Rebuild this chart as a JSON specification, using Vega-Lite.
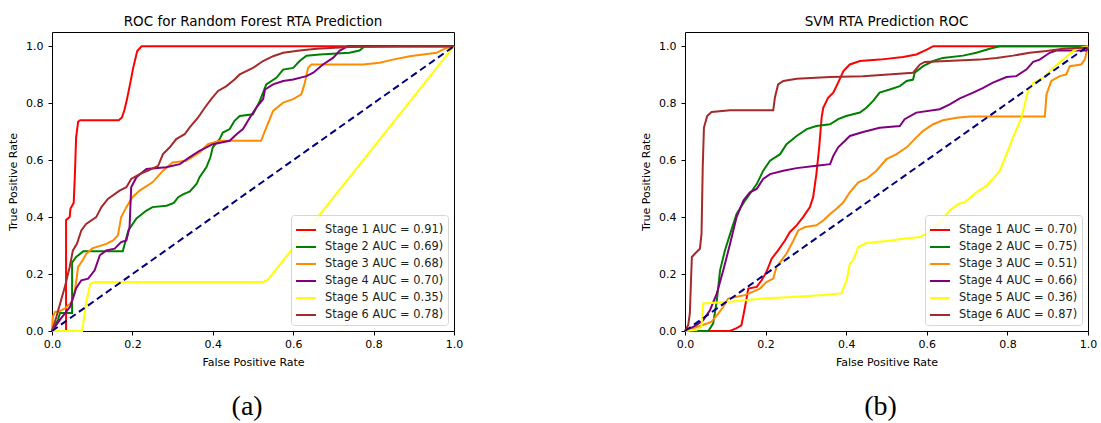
{
  "$schema": "https://vega.github.io/schema/vega-lite/v6.json",
  "background": "white",
  "padding": {"left": 7, "top": 14, "right": 5, "bottom": 2},
  "config": {
    "font": "DejaVu Sans",
    "view": {"stroke": "black", "strokeWidth": 1},
    "axis": {"grid": false, "domain": false, "tickColor": "black", "tickSize": 4, "labelColor": "black", "titleColor": "black", "labelFontSize": 11, "titleFontSize": 11, "titleFontWeight": "normal", "labelFont": "DejaVu Sans", "titleFont": "DejaVu Sans", "labelFlush": false, "titlePadding": 7},
    "axisX": {"labelPadding": 3},
    "axisY": {"labelPadding": 5},
    "title": {"font": "DejaVu Sans", "fontSize": 13.5, "fontWeight": "normal", "color": "black", "offset": 4},
    "legend": {"padding": 4, "strokeColor": "#d6d6d6", "fillColor": "rgba(255,255,255,0.85)", "cornerRadius": 3, "labelFontSize": 11.4, "labelFont": "DejaVu Sans", "labelColor": "#222", "labelOffset": 8, "symbolType": "stroke", "symbolStrokeWidth": 2, "symbolSize": 400, "rowPadding": -4, "title": null}
  },
  "datasets": {
    "diag": [{"fpr": 0, "tpr": 0, "i": 0}, {"fpr": 1, "tpr": 1, "i": 1}],
    "rf": [
      {"curve": "Stage 1 AUC = 0.91)", "i": 0, "fpr": 0, "tpr": 0},
      {"curve": "Stage 1 AUC = 0.91)", "i": 1, "fpr": 0.035, "tpr": 0},
      {"curve": "Stage 1 AUC = 0.91)", "i": 2, "fpr": 0.035, "tpr": 0.39},
      {"curve": "Stage 1 AUC = 0.91)", "i": 3, "fpr": 0.044, "tpr": 0.40},
      {"curve": "Stage 1 AUC = 0.91)", "i": 4, "fpr": 0.046, "tpr": 0.43},
      {"curve": "Stage 1 AUC = 0.91)", "i": 5, "fpr": 0.05, "tpr": 0.44},
      {"curve": "Stage 1 AUC = 0.91)", "i": 6, "fpr": 0.054, "tpr": 0.45},
      {"curve": "Stage 1 AUC = 0.91)", "i": 7, "fpr": 0.057, "tpr": 0.55},
      {"curve": "Stage 1 AUC = 0.91)", "i": 8, "fpr": 0.06, "tpr": 0.68},
      {"curve": "Stage 1 AUC = 0.91)", "i": 9, "fpr": 0.065, "tpr": 0.735},
      {"curve": "Stage 1 AUC = 0.91)", "i": 10, "fpr": 0.07, "tpr": 0.74},
      {"curve": "Stage 1 AUC = 0.91)", "i": 11, "fpr": 0.166, "tpr": 0.74},
      {"curve": "Stage 1 AUC = 0.91)", "i": 12, "fpr": 0.174, "tpr": 0.75},
      {"curve": "Stage 1 AUC = 0.91)", "i": 13, "fpr": 0.18, "tpr": 0.775},
      {"curve": "Stage 1 AUC = 0.91)", "i": 14, "fpr": 0.186, "tpr": 0.81},
      {"curve": "Stage 1 AUC = 0.91)", "i": 15, "fpr": 0.194, "tpr": 0.866},
      {"curve": "Stage 1 AUC = 0.91)", "i": 16, "fpr": 0.202, "tpr": 0.924},
      {"curve": "Stage 1 AUC = 0.91)", "i": 17, "fpr": 0.212, "tpr": 0.983},
      {"curve": "Stage 1 AUC = 0.91)", "i": 18, "fpr": 0.223, "tpr": 1.0},
      {"curve": "Stage 1 AUC = 0.91)", "i": 19, "fpr": 1, "tpr": 1},
      {"curve": "Stage 2 AUC = 0.69)", "i": 0, "fpr": 0, "tpr": 0},
      {"curve": "Stage 2 AUC = 0.69)", "i": 1, "fpr": 0.008, "tpr": 0.02},
      {"curve": "Stage 2 AUC = 0.69)", "i": 2, "fpr": 0.015, "tpr": 0.04},
      {"curve": "Stage 2 AUC = 0.69)", "i": 3, "fpr": 0.02, "tpr": 0.063},
      {"curve": "Stage 2 AUC = 0.69)", "i": 4, "fpr": 0.05, "tpr": 0.063},
      {"curve": "Stage 2 AUC = 0.69)", "i": 5, "fpr": 0.05, "tpr": 0.24},
      {"curve": "Stage 2 AUC = 0.69)", "i": 6, "fpr": 0.06, "tpr": 0.26},
      {"curve": "Stage 2 AUC = 0.69)", "i": 7, "fpr": 0.078, "tpr": 0.28},
      {"curve": "Stage 2 AUC = 0.69)", "i": 8, "fpr": 0.176, "tpr": 0.28},
      {"curve": "Stage 2 AUC = 0.69)", "i": 9, "fpr": 0.19, "tpr": 0.353},
      {"curve": "Stage 2 AUC = 0.69)", "i": 10, "fpr": 0.21, "tpr": 0.395},
      {"curve": "Stage 2 AUC = 0.69)", "i": 11, "fpr": 0.235, "tpr": 0.423},
      {"curve": "Stage 2 AUC = 0.69)", "i": 12, "fpr": 0.25, "tpr": 0.435},
      {"curve": "Stage 2 AUC = 0.69)", "i": 13, "fpr": 0.285, "tpr": 0.44},
      {"curve": "Stage 2 AUC = 0.69)", "i": 14, "fpr": 0.303, "tpr": 0.45},
      {"curve": "Stage 2 AUC = 0.69)", "i": 15, "fpr": 0.314, "tpr": 0.47},
      {"curve": "Stage 2 AUC = 0.69)", "i": 16, "fpr": 0.326, "tpr": 0.48},
      {"curve": "Stage 2 AUC = 0.69)", "i": 17, "fpr": 0.343, "tpr": 0.49},
      {"curve": "Stage 2 AUC = 0.69)", "i": 18, "fpr": 0.36, "tpr": 0.517},
      {"curve": "Stage 2 AUC = 0.69)", "i": 19, "fpr": 0.367, "tpr": 0.54},
      {"curve": "Stage 2 AUC = 0.69)", "i": 20, "fpr": 0.384, "tpr": 0.575},
      {"curve": "Stage 2 AUC = 0.69)", "i": 21, "fpr": 0.394, "tpr": 0.61},
      {"curve": "Stage 2 AUC = 0.69)", "i": 22, "fpr": 0.40, "tpr": 0.645},
      {"curve": "Stage 2 AUC = 0.69)", "i": 23, "fpr": 0.417, "tpr": 0.674},
      {"curve": "Stage 2 AUC = 0.69)", "i": 24, "fpr": 0.425, "tpr": 0.697},
      {"curve": "Stage 2 AUC = 0.69)", "i": 25, "fpr": 0.442, "tpr": 0.709},
      {"curve": "Stage 2 AUC = 0.69)", "i": 26, "fpr": 0.454, "tpr": 0.738},
      {"curve": "Stage 2 AUC = 0.69)", "i": 27, "fpr": 0.467, "tpr": 0.755},
      {"curve": "Stage 2 AUC = 0.69)", "i": 28, "fpr": 0.5, "tpr": 0.761},
      {"curve": "Stage 2 AUC = 0.69)", "i": 29, "fpr": 0.517, "tpr": 0.808},
      {"curve": "Stage 2 AUC = 0.69)", "i": 30, "fpr": 0.533, "tpr": 0.866},
      {"curve": "Stage 2 AUC = 0.69)", "i": 31, "fpr": 0.558, "tpr": 0.889},
      {"curve": "Stage 2 AUC = 0.69)", "i": 32, "fpr": 0.575, "tpr": 0.918},
      {"curve": "Stage 2 AUC = 0.69)", "i": 33, "fpr": 0.6, "tpr": 0.924},
      {"curve": "Stage 2 AUC = 0.69)", "i": 34, "fpr": 0.616, "tpr": 0.948},
      {"curve": "Stage 2 AUC = 0.69)", "i": 35, "fpr": 0.633, "tpr": 0.967},
      {"curve": "Stage 2 AUC = 0.69)", "i": 36, "fpr": 0.666, "tpr": 0.971},
      {"curve": "Stage 2 AUC = 0.69)", "i": 37, "fpr": 0.74, "tpr": 0.977},
      {"curve": "Stage 2 AUC = 0.69)", "i": 38, "fpr": 0.765, "tpr": 0.985},
      {"curve": "Stage 2 AUC = 0.69)", "i": 39, "fpr": 0.778, "tpr": 1.0},
      {"curve": "Stage 2 AUC = 0.69)", "i": 40, "fpr": 1, "tpr": 1},
      {"curve": "Stage 3 AUC = 0.68)", "i": 0, "fpr": 0, "tpr": 0},
      {"curve": "Stage 3 AUC = 0.68)", "i": 1, "fpr": 0.002, "tpr": 0.05},
      {"curve": "Stage 3 AUC = 0.68)", "i": 2, "fpr": 0.0075, "tpr": 0.067},
      {"curve": "Stage 3 AUC = 0.68)", "i": 3, "fpr": 0.02, "tpr": 0.07},
      {"curve": "Stage 3 AUC = 0.68)", "i": 4, "fpr": 0.033, "tpr": 0.08},
      {"curve": "Stage 3 AUC = 0.68)", "i": 5, "fpr": 0.048, "tpr": 0.10},
      {"curve": "Stage 3 AUC = 0.68)", "i": 6, "fpr": 0.056, "tpr": 0.13},
      {"curve": "Stage 3 AUC = 0.68)", "i": 7, "fpr": 0.065, "tpr": 0.225},
      {"curve": "Stage 3 AUC = 0.68)", "i": 8, "fpr": 0.077, "tpr": 0.25},
      {"curve": "Stage 3 AUC = 0.68)", "i": 9, "fpr": 0.085, "tpr": 0.27},
      {"curve": "Stage 3 AUC = 0.68)", "i": 10, "fpr": 0.10, "tpr": 0.29},
      {"curve": "Stage 3 AUC = 0.68)", "i": 11, "fpr": 0.135, "tpr": 0.306},
      {"curve": "Stage 3 AUC = 0.68)", "i": 12, "fpr": 0.152, "tpr": 0.318},
      {"curve": "Stage 3 AUC = 0.68)", "i": 13, "fpr": 0.164, "tpr": 0.336},
      {"curve": "Stage 3 AUC = 0.68)", "i": 14, "fpr": 0.172, "tpr": 0.40},
      {"curve": "Stage 3 AUC = 0.68)", "i": 15, "fpr": 0.185, "tpr": 0.435},
      {"curve": "Stage 3 AUC = 0.68)", "i": 16, "fpr": 0.2, "tpr": 0.47},
      {"curve": "Stage 3 AUC = 0.68)", "i": 17, "fpr": 0.218, "tpr": 0.493},
      {"curve": "Stage 3 AUC = 0.68)", "i": 18, "fpr": 0.25, "tpr": 0.522},
      {"curve": "Stage 3 AUC = 0.68)", "i": 19, "fpr": 0.276, "tpr": 0.563},
      {"curve": "Stage 3 AUC = 0.68)", "i": 20, "fpr": 0.30, "tpr": 0.592},
      {"curve": "Stage 3 AUC = 0.68)", "i": 21, "fpr": 0.334, "tpr": 0.598},
      {"curve": "Stage 3 AUC = 0.68)", "i": 22, "fpr": 0.367, "tpr": 0.627},
      {"curve": "Stage 3 AUC = 0.68)", "i": 23, "fpr": 0.388, "tpr": 0.656},
      {"curve": "Stage 3 AUC = 0.68)", "i": 24, "fpr": 0.417, "tpr": 0.668},
      {"curve": "Stage 3 AUC = 0.68)", "i": 25, "fpr": 0.52, "tpr": 0.668},
      {"curve": "Stage 3 AUC = 0.68)", "i": 26, "fpr": 0.533, "tpr": 0.714},
      {"curve": "Stage 3 AUC = 0.68)", "i": 27, "fpr": 0.55, "tpr": 0.773},
      {"curve": "Stage 3 AUC = 0.68)", "i": 28, "fpr": 0.575, "tpr": 0.802},
      {"curve": "Stage 3 AUC = 0.68)", "i": 29, "fpr": 0.6, "tpr": 0.814},
      {"curve": "Stage 3 AUC = 0.68)", "i": 30, "fpr": 0.62, "tpr": 0.831},
      {"curve": "Stage 3 AUC = 0.68)", "i": 31, "fpr": 0.628, "tpr": 0.866},
      {"curve": "Stage 3 AUC = 0.68)", "i": 32, "fpr": 0.637, "tpr": 0.924},
      {"curve": "Stage 3 AUC = 0.68)", "i": 33, "fpr": 0.645, "tpr": 0.936},
      {"curve": "Stage 3 AUC = 0.68)", "i": 34, "fpr": 0.774, "tpr": 0.936},
      {"curve": "Stage 3 AUC = 0.68)", "i": 35, "fpr": 0.815, "tpr": 0.942},
      {"curve": "Stage 3 AUC = 0.68)", "i": 36, "fpr": 0.848, "tpr": 0.953},
      {"curve": "Stage 3 AUC = 0.68)", "i": 37, "fpr": 0.89, "tpr": 0.965},
      {"curve": "Stage 3 AUC = 0.68)", "i": 38, "fpr": 0.923, "tpr": 0.971},
      {"curve": "Stage 3 AUC = 0.68)", "i": 39, "fpr": 0.956, "tpr": 0.977},
      {"curve": "Stage 3 AUC = 0.68)", "i": 40, "fpr": 0.981, "tpr": 0.994},
      {"curve": "Stage 3 AUC = 0.68)", "i": 41, "fpr": 1, "tpr": 1},
      {"curve": "Stage 4 AUC = 0.70)", "i": 0, "fpr": 0, "tpr": 0},
      {"curve": "Stage 4 AUC = 0.70)", "i": 1, "fpr": 0.02, "tpr": 0.04},
      {"curve": "Stage 4 AUC = 0.70)", "i": 2, "fpr": 0.045, "tpr": 0.085},
      {"curve": "Stage 4 AUC = 0.70)", "i": 3, "fpr": 0.06, "tpr": 0.15},
      {"curve": "Stage 4 AUC = 0.70)", "i": 4, "fpr": 0.073, "tpr": 0.178},
      {"curve": "Stage 4 AUC = 0.70)", "i": 5, "fpr": 0.09, "tpr": 0.184},
      {"curve": "Stage 4 AUC = 0.70)", "i": 6, "fpr": 0.106, "tpr": 0.213},
      {"curve": "Stage 4 AUC = 0.70)", "i": 7, "fpr": 0.119, "tpr": 0.266},
      {"curve": "Stage 4 AUC = 0.70)", "i": 8, "fpr": 0.135, "tpr": 0.283},
      {"curve": "Stage 4 AUC = 0.70)", "i": 9, "fpr": 0.156, "tpr": 0.289},
      {"curve": "Stage 4 AUC = 0.70)", "i": 10, "fpr": 0.172, "tpr": 0.312},
      {"curve": "Stage 4 AUC = 0.70)", "i": 11, "fpr": 0.185, "tpr": 0.318},
      {"curve": "Stage 4 AUC = 0.70)", "i": 12, "fpr": 0.193, "tpr": 0.365},
      {"curve": "Stage 4 AUC = 0.70)", "i": 13, "fpr": 0.197, "tpr": 0.505},
      {"curve": "Stage 4 AUC = 0.70)", "i": 14, "fpr": 0.21, "tpr": 0.54},
      {"curve": "Stage 4 AUC = 0.70)", "i": 15, "fpr": 0.235, "tpr": 0.569},
      {"curve": "Stage 4 AUC = 0.70)", "i": 16, "fpr": 0.284, "tpr": 0.575},
      {"curve": "Stage 4 AUC = 0.70)", "i": 17, "fpr": 0.318, "tpr": 0.586},
      {"curve": "Stage 4 AUC = 0.70)", "i": 18, "fpr": 0.342, "tpr": 0.61},
      {"curve": "Stage 4 AUC = 0.70)", "i": 19, "fpr": 0.367, "tpr": 0.633},
      {"curve": "Stage 4 AUC = 0.70)", "i": 20, "fpr": 0.40, "tpr": 0.656},
      {"curve": "Stage 4 AUC = 0.70)", "i": 21, "fpr": 0.442, "tpr": 0.668},
      {"curve": "Stage 4 AUC = 0.70)", "i": 22, "fpr": 0.459, "tpr": 0.691},
      {"curve": "Stage 4 AUC = 0.70)", "i": 23, "fpr": 0.475, "tpr": 0.709},
      {"curve": "Stage 4 AUC = 0.70)", "i": 24, "fpr": 0.492, "tpr": 0.749},
      {"curve": "Stage 4 AUC = 0.70)", "i": 25, "fpr": 0.508, "tpr": 0.784},
      {"curve": "Stage 4 AUC = 0.70)", "i": 26, "fpr": 0.525, "tpr": 0.814},
      {"curve": "Stage 4 AUC = 0.70)", "i": 27, "fpr": 0.53, "tpr": 0.848},
      {"curve": "Stage 4 AUC = 0.70)", "i": 28, "fpr": 0.55, "tpr": 0.866},
      {"curve": "Stage 4 AUC = 0.70)", "i": 29, "fpr": 0.575, "tpr": 0.878},
      {"curve": "Stage 4 AUC = 0.70)", "i": 30, "fpr": 0.6, "tpr": 0.883},
      {"curve": "Stage 4 AUC = 0.70)", "i": 31, "fpr": 0.633, "tpr": 0.895},
      {"curve": "Stage 4 AUC = 0.70)", "i": 32, "fpr": 0.65, "tpr": 0.907},
      {"curve": "Stage 4 AUC = 0.70)", "i": 33, "fpr": 0.674, "tpr": 0.936},
      {"curve": "Stage 4 AUC = 0.70)", "i": 34, "fpr": 0.699, "tpr": 0.959},
      {"curve": "Stage 4 AUC = 0.70)", "i": 35, "fpr": 0.716, "tpr": 0.985},
      {"curve": "Stage 4 AUC = 0.70)", "i": 36, "fpr": 0.736, "tpr": 1.0},
      {"curve": "Stage 4 AUC = 0.70)", "i": 37, "fpr": 1, "tpr": 1},
      {"curve": "Stage 5 AUC = 0.35)", "i": 0, "fpr": 0, "tpr": 0},
      {"curve": "Stage 5 AUC = 0.35)", "i": 1, "fpr": 0.075, "tpr": 0},
      {"curve": "Stage 5 AUC = 0.35)", "i": 2, "fpr": 0.085, "tpr": 0.1},
      {"curve": "Stage 5 AUC = 0.35)", "i": 3, "fpr": 0.095, "tpr": 0.165},
      {"curve": "Stage 5 AUC = 0.35)", "i": 4, "fpr": 0.105, "tpr": 0.172},
      {"curve": "Stage 5 AUC = 0.35)", "i": 5, "fpr": 0.525, "tpr": 0.172},
      {"curve": "Stage 5 AUC = 0.35)", "i": 6, "fpr": 0.537, "tpr": 0.18},
      {"curve": "Stage 5 AUC = 0.35)", "i": 7, "fpr": 1, "tpr": 1},
      {"curve": "Stage 6 AUC = 0.78)", "i": 0, "fpr": 0, "tpr": 0},
      {"curve": "Stage 6 AUC = 0.78)", "i": 1, "fpr": 0.011, "tpr": 0.05},
      {"curve": "Stage 6 AUC = 0.78)", "i": 2, "fpr": 0.032, "tpr": 0.155},
      {"curve": "Stage 6 AUC = 0.78)", "i": 3, "fpr": 0.044, "tpr": 0.225},
      {"curve": "Stage 6 AUC = 0.78)", "i": 4, "fpr": 0.052, "tpr": 0.283},
      {"curve": "Stage 6 AUC = 0.78)", "i": 5, "fpr": 0.062, "tpr": 0.306},
      {"curve": "Stage 6 AUC = 0.78)", "i": 6, "fpr": 0.073, "tpr": 0.353},
      {"curve": "Stage 6 AUC = 0.78)", "i": 7, "fpr": 0.085, "tpr": 0.376},
      {"curve": "Stage 6 AUC = 0.78)", "i": 8, "fpr": 0.11, "tpr": 0.40},
      {"curve": "Stage 6 AUC = 0.78)", "i": 9, "fpr": 0.123, "tpr": 0.435},
      {"curve": "Stage 6 AUC = 0.78)", "i": 10, "fpr": 0.139, "tpr": 0.464},
      {"curve": "Stage 6 AUC = 0.78)", "i": 11, "fpr": 0.168, "tpr": 0.493},
      {"curve": "Stage 6 AUC = 0.78)", "i": 12, "fpr": 0.185, "tpr": 0.505},
      {"curve": "Stage 6 AUC = 0.78)", "i": 13, "fpr": 0.197, "tpr": 0.534},
      {"curve": "Stage 6 AUC = 0.78)", "i": 14, "fpr": 0.218, "tpr": 0.551},
      {"curve": "Stage 6 AUC = 0.78)", "i": 15, "fpr": 0.239, "tpr": 0.563},
      {"curve": "Stage 6 AUC = 0.78)", "i": 16, "fpr": 0.264, "tpr": 0.58},
      {"curve": "Stage 6 AUC = 0.78)", "i": 17, "fpr": 0.276, "tpr": 0.621},
      {"curve": "Stage 6 AUC = 0.78)", "i": 18, "fpr": 0.293, "tpr": 0.645},
      {"curve": "Stage 6 AUC = 0.78)", "i": 19, "fpr": 0.309, "tpr": 0.674},
      {"curve": "Stage 6 AUC = 0.78)", "i": 20, "fpr": 0.33, "tpr": 0.691},
      {"curve": "Stage 6 AUC = 0.78)", "i": 21, "fpr": 0.342, "tpr": 0.714},
      {"curve": "Stage 6 AUC = 0.78)", "i": 22, "fpr": 0.363, "tpr": 0.749},
      {"curve": "Stage 6 AUC = 0.78)", "i": 23, "fpr": 0.38, "tpr": 0.784},
      {"curve": "Stage 6 AUC = 0.78)", "i": 24, "fpr": 0.396, "tpr": 0.814},
      {"curve": "Stage 6 AUC = 0.78)", "i": 25, "fpr": 0.413, "tpr": 0.843},
      {"curve": "Stage 6 AUC = 0.78)", "i": 26, "fpr": 0.434, "tpr": 0.86},
      {"curve": "Stage 6 AUC = 0.78)", "i": 27, "fpr": 0.454, "tpr": 0.883},
      {"curve": "Stage 6 AUC = 0.78)", "i": 28, "fpr": 0.467, "tpr": 0.901},
      {"curve": "Stage 6 AUC = 0.78)", "i": 29, "fpr": 0.5, "tpr": 0.924},
      {"curve": "Stage 6 AUC = 0.78)", "i": 30, "fpr": 0.525, "tpr": 0.948},
      {"curve": "Stage 6 AUC = 0.78)", "i": 31, "fpr": 0.55, "tpr": 0.965},
      {"curve": "Stage 6 AUC = 0.78)", "i": 32, "fpr": 0.575, "tpr": 0.977},
      {"curve": "Stage 6 AUC = 0.78)", "i": 33, "fpr": 0.616, "tpr": 0.985},
      {"curve": "Stage 6 AUC = 0.78)", "i": 34, "fpr": 0.658, "tpr": 0.991},
      {"curve": "Stage 6 AUC = 0.78)", "i": 35, "fpr": 0.74, "tpr": 0.997},
      {"curve": "Stage 6 AUC = 0.78)", "i": 36, "fpr": 0.865, "tpr": 1.0},
      {"curve": "Stage 6 AUC = 0.78)", "i": 37, "fpr": 1, "tpr": 1}
    ],
    "svm": [
      {"curve": "Stage 1 AUC = 0.70)", "i": 0, "fpr": 0, "tpr": 0},
      {"curve": "Stage 1 AUC = 0.70)", "i": 1, "fpr": 0.112, "tpr": 0},
      {"curve": "Stage 1 AUC = 0.70)", "i": 2, "fpr": 0.128, "tpr": 0.01},
      {"curve": "Stage 1 AUC = 0.70)", "i": 3, "fpr": 0.14, "tpr": 0.02},
      {"curve": "Stage 1 AUC = 0.70)", "i": 4, "fpr": 0.149, "tpr": 0.085},
      {"curve": "Stage 1 AUC = 0.70)", "i": 5, "fpr": 0.157, "tpr": 0.149},
      {"curve": "Stage 1 AUC = 0.70)", "i": 6, "fpr": 0.178, "tpr": 0.155},
      {"curve": "Stage 1 AUC = 0.70)", "i": 7, "fpr": 0.19, "tpr": 0.178},
      {"curve": "Stage 1 AUC = 0.70)", "i": 8, "fpr": 0.202, "tpr": 0.207},
      {"curve": "Stage 1 AUC = 0.70)", "i": 9, "fpr": 0.215, "tpr": 0.254},
      {"curve": "Stage 1 AUC = 0.70)", "i": 10, "fpr": 0.231, "tpr": 0.283},
      {"curve": "Stage 1 AUC = 0.70)", "i": 11, "fpr": 0.248, "tpr": 0.318},
      {"curve": "Stage 1 AUC = 0.70)", "i": 12, "fpr": 0.26, "tpr": 0.347},
      {"curve": "Stage 1 AUC = 0.70)", "i": 13, "fpr": 0.277, "tpr": 0.371},
      {"curve": "Stage 1 AUC = 0.70)", "i": 14, "fpr": 0.293, "tpr": 0.40},
      {"curve": "Stage 1 AUC = 0.70)", "i": 15, "fpr": 0.31, "tpr": 0.435},
      {"curve": "Stage 1 AUC = 0.70)", "i": 16, "fpr": 0.318, "tpr": 0.47},
      {"curve": "Stage 1 AUC = 0.70)", "i": 17, "fpr": 0.326, "tpr": 0.551},
      {"curve": "Stage 1 AUC = 0.70)", "i": 18, "fpr": 0.333, "tpr": 0.645},
      {"curve": "Stage 1 AUC = 0.70)", "i": 19, "fpr": 0.339, "tpr": 0.749},
      {"curve": "Stage 1 AUC = 0.70)", "i": 20, "fpr": 0.343, "tpr": 0.784},
      {"curve": "Stage 1 AUC = 0.70)", "i": 21, "fpr": 0.355, "tpr": 0.819},
      {"curve": "Stage 1 AUC = 0.70)", "i": 22, "fpr": 0.368, "tpr": 0.837},
      {"curve": "Stage 1 AUC = 0.70)", "i": 23, "fpr": 0.38, "tpr": 0.872},
      {"curve": "Stage 1 AUC = 0.70)", "i": 24, "fpr": 0.393, "tpr": 0.913},
      {"curve": "Stage 1 AUC = 0.70)", "i": 25, "fpr": 0.409, "tpr": 0.936},
      {"curve": "Stage 1 AUC = 0.70)", "i": 26, "fpr": 0.434, "tpr": 0.948},
      {"curve": "Stage 1 AUC = 0.70)", "i": 27, "fpr": 0.483, "tpr": 0.953},
      {"curve": "Stage 1 AUC = 0.70)", "i": 28, "fpr": 0.541, "tpr": 0.962},
      {"curve": "Stage 1 AUC = 0.70)", "i": 29, "fpr": 0.574, "tpr": 0.971},
      {"curve": "Stage 1 AUC = 0.70)", "i": 30, "fpr": 0.6, "tpr": 0.988},
      {"curve": "Stage 1 AUC = 0.70)", "i": 31, "fpr": 0.616, "tpr": 1.0},
      {"curve": "Stage 1 AUC = 0.70)", "i": 32, "fpr": 1, "tpr": 1},
      {"curve": "Stage 2 AUC = 0.75)", "i": 0, "fpr": 0, "tpr": 0},
      {"curve": "Stage 2 AUC = 0.75)", "i": 1, "fpr": 0.058, "tpr": 0},
      {"curve": "Stage 2 AUC = 0.75)", "i": 2, "fpr": 0.07, "tpr": 0.027},
      {"curve": "Stage 2 AUC = 0.75)", "i": 3, "fpr": 0.079, "tpr": 0.108},
      {"curve": "Stage 2 AUC = 0.75)", "i": 4, "fpr": 0.087, "tpr": 0.213},
      {"curve": "Stage 2 AUC = 0.75)", "i": 5, "fpr": 0.099, "tpr": 0.283},
      {"curve": "Stage 2 AUC = 0.75)", "i": 6, "fpr": 0.112, "tpr": 0.341},
      {"curve": "Stage 2 AUC = 0.75)", "i": 7, "fpr": 0.128, "tpr": 0.411},
      {"curve": "Stage 2 AUC = 0.75)", "i": 8, "fpr": 0.149, "tpr": 0.458},
      {"curve": "Stage 2 AUC = 0.75)", "i": 9, "fpr": 0.178, "tpr": 0.516},
      {"curve": "Stage 2 AUC = 0.75)", "i": 10, "fpr": 0.194, "tpr": 0.563},
      {"curve": "Stage 2 AUC = 0.75)", "i": 11, "fpr": 0.211, "tpr": 0.598},
      {"curve": "Stage 2 AUC = 0.75)", "i": 12, "fpr": 0.236, "tpr": 0.621},
      {"curve": "Stage 2 AUC = 0.75)", "i": 13, "fpr": 0.252, "tpr": 0.656},
      {"curve": "Stage 2 AUC = 0.75)", "i": 14, "fpr": 0.277, "tpr": 0.685},
      {"curve": "Stage 2 AUC = 0.75)", "i": 15, "fpr": 0.302, "tpr": 0.709},
      {"curve": "Stage 2 AUC = 0.75)", "i": 16, "fpr": 0.326, "tpr": 0.72},
      {"curve": "Stage 2 AUC = 0.75)", "i": 17, "fpr": 0.36, "tpr": 0.726},
      {"curve": "Stage 2 AUC = 0.75)", "i": 18, "fpr": 0.38, "tpr": 0.744},
      {"curve": "Stage 2 AUC = 0.75)", "i": 19, "fpr": 0.40, "tpr": 0.755},
      {"curve": "Stage 2 AUC = 0.75)", "i": 20, "fpr": 0.434, "tpr": 0.767},
      {"curve": "Stage 2 AUC = 0.75)", "i": 21, "fpr": 0.45, "tpr": 0.784},
      {"curve": "Stage 2 AUC = 0.75)", "i": 22, "fpr": 0.467, "tpr": 0.808},
      {"curve": "Stage 2 AUC = 0.75)", "i": 23, "fpr": 0.483, "tpr": 0.837},
      {"curve": "Stage 2 AUC = 0.75)", "i": 24, "fpr": 0.508, "tpr": 0.848},
      {"curve": "Stage 2 AUC = 0.75)", "i": 25, "fpr": 0.533, "tpr": 0.86},
      {"curve": "Stage 2 AUC = 0.75)", "i": 26, "fpr": 0.55, "tpr": 0.878},
      {"curve": "Stage 2 AUC = 0.75)", "i": 27, "fpr": 0.566, "tpr": 0.883},
      {"curve": "Stage 2 AUC = 0.75)", "i": 28, "fpr": 0.57, "tpr": 0.907},
      {"curve": "Stage 2 AUC = 0.75)", "i": 29, "fpr": 0.591, "tpr": 0.93},
      {"curve": "Stage 2 AUC = 0.75)", "i": 30, "fpr": 0.616, "tpr": 0.948},
      {"curve": "Stage 2 AUC = 0.75)", "i": 31, "fpr": 0.64, "tpr": 0.959},
      {"curve": "Stage 2 AUC = 0.75)", "i": 32, "fpr": 0.69, "tpr": 0.967},
      {"curve": "Stage 2 AUC = 0.75)", "i": 33, "fpr": 0.723, "tpr": 0.977},
      {"curve": "Stage 2 AUC = 0.75)", "i": 34, "fpr": 0.756, "tpr": 0.991},
      {"curve": "Stage 2 AUC = 0.75)", "i": 35, "fpr": 0.781, "tpr": 1.0},
      {"curve": "Stage 2 AUC = 0.75)", "i": 36, "fpr": 1, "tpr": 1},
      {"curve": "Stage 3 AUC = 0.51)", "i": 0, "fpr": 0, "tpr": 0},
      {"curve": "Stage 3 AUC = 0.51)", "i": 1, "fpr": 0.021, "tpr": 0.01},
      {"curve": "Stage 3 AUC = 0.51)", "i": 2, "fpr": 0.045, "tpr": 0.021},
      {"curve": "Stage 3 AUC = 0.51)", "i": 3, "fpr": 0.066, "tpr": 0.033},
      {"curve": "Stage 3 AUC = 0.51)", "i": 4, "fpr": 0.083, "tpr": 0.062},
      {"curve": "Stage 3 AUC = 0.51)", "i": 5, "fpr": 0.095, "tpr": 0.085},
      {"curve": "Stage 3 AUC = 0.51)", "i": 6, "fpr": 0.107, "tpr": 0.114},
      {"curve": "Stage 3 AUC = 0.51)", "i": 7, "fpr": 0.128, "tpr": 0.12},
      {"curve": "Stage 3 AUC = 0.51)", "i": 8, "fpr": 0.149, "tpr": 0.126},
      {"curve": "Stage 3 AUC = 0.51)", "i": 9, "fpr": 0.169, "tpr": 0.138},
      {"curve": "Stage 3 AUC = 0.51)", "i": 10, "fpr": 0.186, "tpr": 0.149},
      {"curve": "Stage 3 AUC = 0.51)", "i": 11, "fpr": 0.202, "tpr": 0.172},
      {"curve": "Stage 3 AUC = 0.51)", "i": 12, "fpr": 0.219, "tpr": 0.184},
      {"curve": "Stage 3 AUC = 0.51)", "i": 13, "fpr": 0.227, "tpr": 0.225},
      {"curve": "Stage 3 AUC = 0.51)", "i": 14, "fpr": 0.236, "tpr": 0.242},
      {"curve": "Stage 3 AUC = 0.51)", "i": 15, "fpr": 0.252, "tpr": 0.272},
      {"curve": "Stage 3 AUC = 0.51)", "i": 16, "fpr": 0.269, "tpr": 0.318},
      {"curve": "Stage 3 AUC = 0.51)", "i": 17, "fpr": 0.281, "tpr": 0.353},
      {"curve": "Stage 3 AUC = 0.51)", "i": 18, "fpr": 0.298, "tpr": 0.365},
      {"curve": "Stage 3 AUC = 0.51)", "i": 19, "fpr": 0.326, "tpr": 0.371},
      {"curve": "Stage 3 AUC = 0.51)", "i": 20, "fpr": 0.343, "tpr": 0.388},
      {"curve": "Stage 3 AUC = 0.51)", "i": 21, "fpr": 0.36, "tpr": 0.411},
      {"curve": "Stage 3 AUC = 0.51)", "i": 22, "fpr": 0.376, "tpr": 0.429},
      {"curve": "Stage 3 AUC = 0.51)", "i": 23, "fpr": 0.393, "tpr": 0.452},
      {"curve": "Stage 3 AUC = 0.51)", "i": 24, "fpr": 0.409, "tpr": 0.487},
      {"curve": "Stage 3 AUC = 0.51)", "i": 25, "fpr": 0.43, "tpr": 0.522},
      {"curve": "Stage 3 AUC = 0.51)", "i": 26, "fpr": 0.45, "tpr": 0.534},
      {"curve": "Stage 3 AUC = 0.51)", "i": 27, "fpr": 0.475, "tpr": 0.563},
      {"curve": "Stage 3 AUC = 0.51)", "i": 28, "fpr": 0.5, "tpr": 0.604},
      {"curve": "Stage 3 AUC = 0.51)", "i": 29, "fpr": 0.525, "tpr": 0.621},
      {"curve": "Stage 3 AUC = 0.51)", "i": 30, "fpr": 0.55, "tpr": 0.645},
      {"curve": "Stage 3 AUC = 0.51)", "i": 31, "fpr": 0.574, "tpr": 0.68},
      {"curve": "Stage 3 AUC = 0.51)", "i": 32, "fpr": 0.591, "tpr": 0.703},
      {"curve": "Stage 3 AUC = 0.51)", "i": 33, "fpr": 0.616, "tpr": 0.726},
      {"curve": "Stage 3 AUC = 0.51)", "i": 34, "fpr": 0.64, "tpr": 0.74},
      {"curve": "Stage 3 AUC = 0.51)", "i": 35, "fpr": 0.674, "tpr": 0.749},
      {"curve": "Stage 3 AUC = 0.51)", "i": 36, "fpr": 0.707, "tpr": 0.753},
      {"curve": "Stage 3 AUC = 0.51)", "i": 37, "fpr": 0.893, "tpr": 0.753},
      {"curve": "Stage 3 AUC = 0.51)", "i": 38, "fpr": 0.897, "tpr": 0.831},
      {"curve": "Stage 3 AUC = 0.51)", "i": 39, "fpr": 0.909, "tpr": 0.878},
      {"curve": "Stage 3 AUC = 0.51)", "i": 40, "fpr": 0.93, "tpr": 0.895},
      {"curve": "Stage 3 AUC = 0.51)", "i": 41, "fpr": 0.946, "tpr": 0.901},
      {"curve": "Stage 3 AUC = 0.51)", "i": 42, "fpr": 0.955, "tpr": 0.93},
      {"curve": "Stage 3 AUC = 0.51)", "i": 43, "fpr": 0.983, "tpr": 0.936},
      {"curve": "Stage 3 AUC = 0.51)", "i": 44, "fpr": 0.992, "tpr": 0.953},
      {"curve": "Stage 3 AUC = 0.51)", "i": 45, "fpr": 1, "tpr": 1},
      {"curve": "Stage 4 AUC = 0.66)", "i": 0, "fpr": 0, "tpr": 0},
      {"curve": "Stage 4 AUC = 0.66)", "i": 1, "fpr": 0.029, "tpr": 0.021},
      {"curve": "Stage 4 AUC = 0.66)", "i": 2, "fpr": 0.045, "tpr": 0.038},
      {"curve": "Stage 4 AUC = 0.66)", "i": 3, "fpr": 0.062, "tpr": 0.073},
      {"curve": "Stage 4 AUC = 0.66)", "i": 4, "fpr": 0.079, "tpr": 0.132},
      {"curve": "Stage 4 AUC = 0.66)", "i": 5, "fpr": 0.095, "tpr": 0.213},
      {"curve": "Stage 4 AUC = 0.66)", "i": 6, "fpr": 0.112, "tpr": 0.307},
      {"curve": "Stage 4 AUC = 0.66)", "i": 7, "fpr": 0.128, "tpr": 0.40},
      {"curve": "Stage 4 AUC = 0.66)", "i": 8, "fpr": 0.145, "tpr": 0.458},
      {"curve": "Stage 4 AUC = 0.66)", "i": 9, "fpr": 0.161, "tpr": 0.487},
      {"curve": "Stage 4 AUC = 0.66)", "i": 10, "fpr": 0.178, "tpr": 0.499},
      {"curve": "Stage 4 AUC = 0.66)", "i": 11, "fpr": 0.194, "tpr": 0.534},
      {"curve": "Stage 4 AUC = 0.66)", "i": 12, "fpr": 0.211, "tpr": 0.551},
      {"curve": "Stage 4 AUC = 0.66)", "i": 13, "fpr": 0.244, "tpr": 0.563},
      {"curve": "Stage 4 AUC = 0.66)", "i": 14, "fpr": 0.277, "tpr": 0.572},
      {"curve": "Stage 4 AUC = 0.66)", "i": 15, "fpr": 0.326, "tpr": 0.58},
      {"curve": "Stage 4 AUC = 0.66)", "i": 16, "fpr": 0.36, "tpr": 0.586},
      {"curve": "Stage 4 AUC = 0.66)", "i": 17, "fpr": 0.368, "tpr": 0.615},
      {"curve": "Stage 4 AUC = 0.66)", "i": 18, "fpr": 0.38, "tpr": 0.645},
      {"curve": "Stage 4 AUC = 0.66)", "i": 19, "fpr": 0.397, "tpr": 0.668},
      {"curve": "Stage 4 AUC = 0.66)", "i": 20, "fpr": 0.409, "tpr": 0.685},
      {"curve": "Stage 4 AUC = 0.66)", "i": 21, "fpr": 0.442, "tpr": 0.699},
      {"curve": "Stage 4 AUC = 0.66)", "i": 22, "fpr": 0.483, "tpr": 0.714},
      {"curve": "Stage 4 AUC = 0.66)", "i": 23, "fpr": 0.533, "tpr": 0.72},
      {"curve": "Stage 4 AUC = 0.66)", "i": 24, "fpr": 0.545, "tpr": 0.744},
      {"curve": "Stage 4 AUC = 0.66)", "i": 25, "fpr": 0.574, "tpr": 0.767},
      {"curve": "Stage 4 AUC = 0.66)", "i": 26, "fpr": 0.632, "tpr": 0.779},
      {"curve": "Stage 4 AUC = 0.66)", "i": 27, "fpr": 0.657, "tpr": 0.796},
      {"curve": "Stage 4 AUC = 0.66)", "i": 28, "fpr": 0.682, "tpr": 0.817},
      {"curve": "Stage 4 AUC = 0.66)", "i": 29, "fpr": 0.715, "tpr": 0.837},
      {"curve": "Stage 4 AUC = 0.66)", "i": 30, "fpr": 0.74, "tpr": 0.854},
      {"curve": "Stage 4 AUC = 0.66)", "i": 31, "fpr": 0.764, "tpr": 0.872},
      {"curve": "Stage 4 AUC = 0.66)", "i": 32, "fpr": 0.798, "tpr": 0.892},
      {"curve": "Stage 4 AUC = 0.66)", "i": 33, "fpr": 0.822, "tpr": 0.895},
      {"curve": "Stage 4 AUC = 0.66)", "i": 34, "fpr": 0.847, "tpr": 0.918},
      {"curve": "Stage 4 AUC = 0.66)", "i": 35, "fpr": 0.864, "tpr": 0.945},
      {"curve": "Stage 4 AUC = 0.66)", "i": 36, "fpr": 0.88, "tpr": 0.953},
      {"curve": "Stage 4 AUC = 0.66)", "i": 37, "fpr": 0.905, "tpr": 0.977},
      {"curve": "Stage 4 AUC = 0.66)", "i": 38, "fpr": 0.921, "tpr": 0.985},
      {"curve": "Stage 4 AUC = 0.66)", "i": 39, "fpr": 0.996, "tpr": 0.985},
      {"curve": "Stage 4 AUC = 0.66)", "i": 40, "fpr": 1, "tpr": 1},
      {"curve": "Stage 5 AUC = 0.36)", "i": 0, "fpr": 0, "tpr": 0},
      {"curve": "Stage 5 AUC = 0.36)", "i": 1, "fpr": 0.029, "tpr": 0.004},
      {"curve": "Stage 5 AUC = 0.36)", "i": 2, "fpr": 0.041, "tpr": 0.015},
      {"curve": "Stage 5 AUC = 0.36)", "i": 3, "fpr": 0.045, "tpr": 0.097},
      {"curve": "Stage 5 AUC = 0.36)", "i": 4, "fpr": 0.112, "tpr": 0.103},
      {"curve": "Stage 5 AUC = 0.36)", "i": 5, "fpr": 0.194, "tpr": 0.114},
      {"curve": "Stage 5 AUC = 0.36)", "i": 6, "fpr": 0.277, "tpr": 0.12},
      {"curve": "Stage 5 AUC = 0.36)", "i": 7, "fpr": 0.343, "tpr": 0.126},
      {"curve": "Stage 5 AUC = 0.36)", "i": 8, "fpr": 0.388, "tpr": 0.132},
      {"curve": "Stage 5 AUC = 0.36)", "i": 9, "fpr": 0.401, "tpr": 0.178},
      {"curve": "Stage 5 AUC = 0.36)", "i": 10, "fpr": 0.409, "tpr": 0.237},
      {"curve": "Stage 5 AUC = 0.36)", "i": 11, "fpr": 0.417, "tpr": 0.248},
      {"curve": "Stage 5 AUC = 0.36)", "i": 12, "fpr": 0.43, "tpr": 0.295},
      {"curve": "Stage 5 AUC = 0.36)", "i": 13, "fpr": 0.45, "tpr": 0.309},
      {"curve": "Stage 5 AUC = 0.36)", "i": 14, "fpr": 0.5, "tpr": 0.316},
      {"curve": "Stage 5 AUC = 0.36)", "i": 15, "fpr": 0.541, "tpr": 0.324},
      {"curve": "Stage 5 AUC = 0.36)", "i": 16, "fpr": 0.583, "tpr": 0.33},
      {"curve": "Stage 5 AUC = 0.36)", "i": 17, "fpr": 0.607, "tpr": 0.347},
      {"curve": "Stage 5 AUC = 0.36)", "i": 18, "fpr": 0.632, "tpr": 0.382},
      {"curve": "Stage 5 AUC = 0.36)", "i": 19, "fpr": 0.657, "tpr": 0.423},
      {"curve": "Stage 5 AUC = 0.36)", "i": 20, "fpr": 0.678, "tpr": 0.446},
      {"curve": "Stage 5 AUC = 0.36)", "i": 21, "fpr": 0.694, "tpr": 0.452},
      {"curve": "Stage 5 AUC = 0.36)", "i": 22, "fpr": 0.723, "tpr": 0.487},
      {"curve": "Stage 5 AUC = 0.36)", "i": 23, "fpr": 0.748, "tpr": 0.51},
      {"curve": "Stage 5 AUC = 0.36)", "i": 24, "fpr": 0.764, "tpr": 0.534},
      {"curve": "Stage 5 AUC = 0.36)", "i": 25, "fpr": 0.781, "tpr": 0.563},
      {"curve": "Stage 5 AUC = 0.36)", "i": 26, "fpr": 0.798, "tpr": 0.621},
      {"curve": "Stage 5 AUC = 0.36)", "i": 27, "fpr": 0.814, "tpr": 0.68},
      {"curve": "Stage 5 AUC = 0.36)", "i": 28, "fpr": 0.835, "tpr": 0.749},
      {"curve": "Stage 5 AUC = 0.36)", "i": 29, "fpr": 0.851, "tpr": 0.843},
      {"curve": "Stage 5 AUC = 0.36)", "i": 30, "fpr": 0.864, "tpr": 0.872},
      {"curve": "Stage 5 AUC = 0.36)", "i": 31, "fpr": 0.888, "tpr": 0.889},
      {"curve": "Stage 5 AUC = 0.36)", "i": 32, "fpr": 0.913, "tpr": 0.924},
      {"curve": "Stage 5 AUC = 0.36)", "i": 33, "fpr": 0.938, "tpr": 0.953},
      {"curve": "Stage 5 AUC = 0.36)", "i": 34, "fpr": 0.963, "tpr": 0.983},
      {"curve": "Stage 5 AUC = 0.36)", "i": 35, "fpr": 0.979, "tpr": 0.994},
      {"curve": "Stage 5 AUC = 0.36)", "i": 36, "fpr": 1, "tpr": 1},
      {"curve": "Stage 6 AUC = 0.87)", "i": 0, "fpr": 0, "tpr": 0},
      {"curve": "Stage 6 AUC = 0.87)", "i": 1, "fpr": 0.008, "tpr": 0.021},
      {"curve": "Stage 6 AUC = 0.87)", "i": 2, "fpr": 0.012, "tpr": 0.062},
      {"curve": "Stage 6 AUC = 0.87)", "i": 3, "fpr": 0.017, "tpr": 0.26},
      {"curve": "Stage 6 AUC = 0.87)", "i": 4, "fpr": 0.025, "tpr": 0.272},
      {"curve": "Stage 6 AUC = 0.87)", "i": 5, "fpr": 0.037, "tpr": 0.289},
      {"curve": "Stage 6 AUC = 0.87)", "i": 6, "fpr": 0.041, "tpr": 0.341},
      {"curve": "Stage 6 AUC = 0.87)", "i": 7, "fpr": 0.044, "tpr": 0.575},
      {"curve": "Stage 6 AUC = 0.87)", "i": 8, "fpr": 0.047, "tpr": 0.714},
      {"curve": "Stage 6 AUC = 0.87)", "i": 9, "fpr": 0.055, "tpr": 0.755},
      {"curve": "Stage 6 AUC = 0.87)", "i": 10, "fpr": 0.066, "tpr": 0.769},
      {"curve": "Stage 6 AUC = 0.87)", "i": 11, "fpr": 0.112, "tpr": 0.775},
      {"curve": "Stage 6 AUC = 0.87)", "i": 12, "fpr": 0.219, "tpr": 0.775},
      {"curve": "Stage 6 AUC = 0.87)", "i": 13, "fpr": 0.223, "tpr": 0.819},
      {"curve": "Stage 6 AUC = 0.87)", "i": 14, "fpr": 0.231, "tpr": 0.866},
      {"curve": "Stage 6 AUC = 0.87)", "i": 15, "fpr": 0.244, "tpr": 0.878},
      {"curve": "Stage 6 AUC = 0.87)", "i": 16, "fpr": 0.277, "tpr": 0.886},
      {"curve": "Stage 6 AUC = 0.87)", "i": 17, "fpr": 0.36, "tpr": 0.892},
      {"curve": "Stage 6 AUC = 0.87)", "i": 18, "fpr": 0.442, "tpr": 0.895},
      {"curve": "Stage 6 AUC = 0.87)", "i": 19, "fpr": 0.566, "tpr": 0.907},
      {"curve": "Stage 6 AUC = 0.87)", "i": 20, "fpr": 0.583, "tpr": 0.936},
      {"curve": "Stage 6 AUC = 0.87)", "i": 21, "fpr": 0.595, "tpr": 0.945},
      {"curve": "Stage 6 AUC = 0.87)", "i": 22, "fpr": 0.649, "tpr": 0.948},
      {"curve": "Stage 6 AUC = 0.87)", "i": 23, "fpr": 0.731, "tpr": 0.953},
      {"curve": "Stage 6 AUC = 0.87)", "i": 24, "fpr": 0.773, "tpr": 0.959},
      {"curve": "Stage 6 AUC = 0.87)", "i": 25, "fpr": 0.814, "tpr": 0.967},
      {"curve": "Stage 6 AUC = 0.87)", "i": 26, "fpr": 0.855, "tpr": 0.977},
      {"curve": "Stage 6 AUC = 0.87)", "i": 27, "fpr": 0.897, "tpr": 0.983},
      {"curve": "Stage 6 AUC = 0.87)", "i": 28, "fpr": 0.938, "tpr": 0.991},
      {"curve": "Stage 6 AUC = 0.87)", "i": 29, "fpr": 0.971, "tpr": 0.994},
      {"curve": "Stage 6 AUC = 0.87)", "i": 30, "fpr": 1, "tpr": 0.995}
    ]
  },
  "hconcat": [
    {
      "vconcat": [
        {
          "title": "ROC for Random Forest RTA Prediction",
          "width": 402,
          "height": 299,
          "layer": [
            {
              "data": {"name": "rf"},
              "mark": {"type": "line", "strokeWidth": 2},
              "encoding": {
                "x": {"field": "fpr", "type": "quantitative", "scale": {"domain": [0, 1], "nice": false, "zero": false}, "axis": {"title": "False Positive Rate", "values": [0, 0.2, 0.4, 0.6, 0.8, 1.0], "format": ".1f"}},
                "y": {"field": "tpr", "type": "quantitative", "scale": {"domain": [0, 1.05], "nice": false, "zero": false}, "axis": {"title": "True Positive Rate", "values": [0, 0.2, 0.4, 0.6, 0.8, 1.0], "format": ".1f"}},
                "color": {"field": "curve", "type": "nominal", "scale": {"domain": ["Stage 1 AUC = 0.91)", "Stage 2 AUC = 0.69)", "Stage 3 AUC = 0.68)", "Stage 4 AUC = 0.70)", "Stage 5 AUC = 0.35)", "Stage 6 AUC = 0.78)"], "range": ["#ff0000", "#008000", "#ff8c00", "#800080", "#ffff00", "#a52a2a"]}, "legend": {"orient": "bottom-right", "offset": 6}},
                "order": {"field": "i", "type": "quantitative"}
              }
            },
            {
              "data": {"name": "diag"},
              "mark": {"type": "line", "color": "#000080", "strokeWidth": 2, "strokeDash": [7, 4]},
              "encoding": {
                "x": {"field": "fpr", "type": "quantitative"},
                "y": {"field": "tpr", "type": "quantitative"},
                "order": {"field": "i", "type": "quantitative"}
              }
            }
          ]
        }
      ],
      "resolve": {"scale": {"color": "independent"}, "legend": {"color": "independent"}},
      "title": {"text": "(a)", "orient": "bottom", "font": "Liberation Serif", "fontSize": 28, "fontWeight": "normal", "offset": 25, "anchor": "middle", "dx": 12}
    },
    {
      "vconcat": [
        {
          "title": "SVM RTA Prediction ROC",
          "width": 403,
          "height": 299,
          "layer": [
            {
              "data": {"name": "svm"},
              "mark": {"type": "line", "strokeWidth": 2},
              "encoding": {
                "x": {"field": "fpr", "type": "quantitative", "scale": {"domain": [0, 1], "nice": false, "zero": false}, "axis": {"title": "False Positive Rate", "values": [0, 0.2, 0.4, 0.6, 0.8, 1.0], "format": ".1f"}},
                "y": {"field": "tpr", "type": "quantitative", "scale": {"domain": [0, 1.05], "nice": false, "zero": false}, "axis": {"title": "True Positive Rate", "values": [0, 0.2, 0.4, 0.6, 0.8, 1.0], "format": ".1f"}},
                "color": {"field": "curve", "type": "nominal", "scale": {"domain": ["Stage 1 AUC = 0.70)", "Stage 2 AUC = 0.75)", "Stage 3 AUC = 0.51)", "Stage 4 AUC = 0.66)", "Stage 5 AUC = 0.36)", "Stage 6 AUC = 0.87)"], "range": ["#ff0000", "#008000", "#ff8c00", "#800080", "#ffff00", "#a52a2a"]}, "legend": {"orient": "bottom-right", "offset": 6}},
                "order": {"field": "i", "type": "quantitative"}
              }
            },
            {
              "data": {"name": "diag"},
              "mark": {"type": "line", "color": "#000080", "strokeWidth": 2, "strokeDash": [7, 4]},
              "encoding": {
                "x": {"field": "fpr", "type": "quantitative"},
                "y": {"field": "tpr", "type": "quantitative"},
                "order": {"field": "i", "type": "quantitative"}
              }
            }
          ]
        }
      ],
      "resolve": {"scale": {"color": "independent"}, "legend": {"color": "independent"}},
      "title": {"text": "(b)", "orient": "bottom", "font": "Liberation Serif", "fontSize": 28, "fontWeight": "normal", "offset": 25, "anchor": "middle", "dx": 12}
    }
  ],
  "spacing": 176,
  "resolve": {"scale": {"color": "independent"}, "legend": {"color": "independent"}}
}
